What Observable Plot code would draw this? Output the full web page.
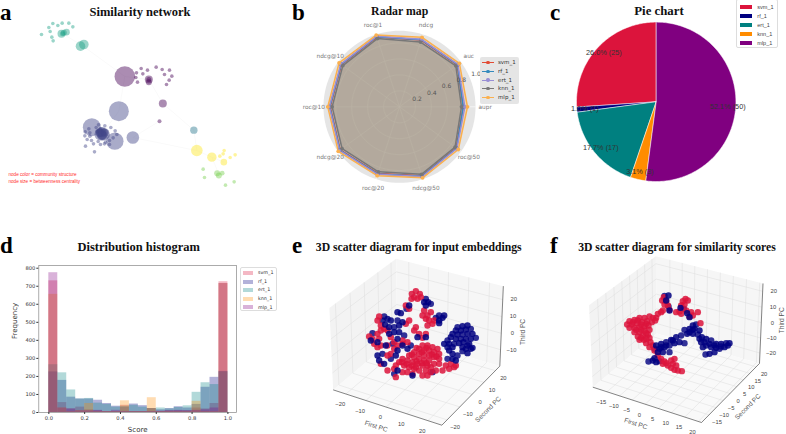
<!DOCTYPE html>
<html><head><meta charset="utf-8">
<script src="https://cdn.jsdelivr.net/npm/d3@7"></script>
<script src="https://cdn.jsdelivr.net/npm/@observablehq/plot@0.6"></script>
<style>
html,body{margin:0;padding:0;background:#fff}
#root{position:relative;width:786px;height:434px;overflow:hidden}
#root svg{position:absolute;overflow:visible;background:transparent}
.t{position:absolute;font-family:"Liberation Serif";font-weight:bold;color:#111;white-space:nowrap}
.lg{position:absolute;box-sizing:border-box}
.lg span{position:absolute;white-space:nowrap}
.lg i{position:absolute;display:block}
</style></head><body><div id="root"></div>
<script>
// ---------- panel a: similarity network (layout x, y, size)
const communityGreen=[[123,102,1.8],[145,81,1.8],[157,69,1.8],[172,75,1.8],[185,68,1.8],[205,68,1.8],[217,79,1.8],[149,93,1.8],[154,110,1.8],[158,121,1.8],[183,100,4],[190,97,3],[198,95,3.3],[186,100,2.5],[240,137,4.8],[250,132,4.8]];
const communityPurple=[[373,228,10.3],[445,237,4],[445,237,2.5],[445,245,3],[422,204,1.8],[441,209,1.8],[467,200,1.8],[485,207,1.8],[507,209,1.8],[492,222,1.8],[514,227,1.8],[506,239,1.8],[498,252,1.8],[427,220,1.8],[408,217,1.8],[406,231,1.8],[411,245,1.8],[487,309,4],[477,362,2]];
const communityBlue=[[355,332,10],[274,380,9],[343,422,8.7],[397,411,6.3],[305,398,6],[300,402,6],[310,402,6],[305,405,5],[303,395,5],[297,397,4],[313,396,4],[294,373,1.8],[313,376,1.8],[331,381,1.8],[344,391,1.8],[349,402,1.8],[338,412,1.8],[254,394,1.8],[265,385,1.8],[268,397,1.8],[253,406,1.8],[268,407,1.8],[260,417,1.8],[273,420,1.8],[279,430,1.8],[255,437,1.8],[282,454,1.8],[293,423,1.8],[300,432,1.8],[315,425,1.8],[327,420,1.8],[327,432,1.8],[312,430,1.8],[287,381,1.8],[300,385,1.8],[290,392,1.8]];
const communityTeal=[[580,389,3.7]];
const communityYellow=[[589,450,5.8],[634,470,4.7],[670,485,3.3],[658,467,1.8],[671,450,1.8],[668,460,1.8],[689,471,1.8],[704,463,1.8]];
const communityLime=[[650,518,3],[665,518,2.4],[655,525,3],[608,506,1.8],[612,531,1.8],[675,554,1.8],[701,544,1.8]];
const communityColors=["#1fa187","#440154","#414487","#2a788e","#fde725","#7ad151"];
const netEdges=[[185,99,245,135],[245,135,373,228],[373,228,445,237],[373,228,355,332],[355,332,305,400],[445,237,487,309],[487,309,580,389],[397,411,477,362],[397,411,589,450],[580,389,589,450],[589,450,634,470],[634,470,670,485],[655,522,634,470]];
const netNotes=["node color = community structure","node size = betweenness centrality"];

// ---------- panel b: radar map
const radarMetrics=["aupr","auc","ndcg","roc@1","ndcg@10","roc@10","ndcg@20","roc@20","ndcg@50","roc@50"];
const radarSvm=[.80,.895,.88,.92,.90,.87,.92,.88,.91,.88];
const radarRf=[.80,.90,.885,.925,.905,.875,.925,.885,.915,.885];
const radarErt=[.82,.905,.89,.93,.91,.88,.93,.89,.92,.89];
const radarKnn=[.778,.874,.854,.90,.879,.845,.891,.858,.891,.862];
const radarMlp=[.853,.929,.916,.946,.937,.90,.95,.908,.937,.912];
const radarTicks=[.2,.4,.6,.8,1.0];
const radarColors=["#E24A33","#348ABD","#988ED5","#777777","#FBB04E"];
const radarFillAlpha=[.05,.25,.1,.35,.22];

// ---------- panel c: pie chart
const models=["svm_1","rf_1","ert_1","knn_1","mlp_1"];
const pieCounts=[25,1,17,3,50];
const pieColors=["crimson","navy","teal","darkorange","purple"];

// ---------- panel d: histogram
const histSvm=[730,55,20,30,15,10,5,5,40,5,5,22,5,10,10,10,25,20,50,725];
const histRf=[225,178,85,75,75,68,50,35,30,47,38,22,15,22,32,25,45,140,195,228];
const histErt=[265,220,125,75,78,52,45,30,35,40,30,22,25,20,28,37,112,165,155,225];
const histKnn=[655,25,5,10,50,5,5,5,65,5,5,82,5,5,5,5,62,5,5,715];
const histMlp=[775,25,20,10,10,12,5,12,5,5,5,5,8,10,12,10,12,15,25,715];
const histTicksX=[0,.2,.4,.6,.8,1];
const histTicksY=[0,100,200,300,400,500,600,700,800];

// ---------- panels e, f: projected scatter coordinates
const embedRed=[[448,190],[460,182],[472,190],[455,200],[465,205],[475,200],[447,205],[430,225],[440,235],[495,255],[505,245],[490,265],[500,270],[515,270],[510,280],[495,285],[480,255],[485,240],[350,258],[345,270],[355,285],[365,295],[375,300],[355,300],[345,310],[320,318],[330,325],[335,340],[345,350],[355,345],[350,325],[460,290],[455,300],[470,310],[490,310],[480,322],[440,270],[430,280],[480,345],[495,345],[510,350],[525,355],[470,355],[485,360],[500,360],[515,365],[530,370],[455,365],[470,370],[485,375],[500,375],[515,380],[530,385],[440,375],[455,380],[470,385],[485,390],[500,390],[420,385],[435,390],[450,395],[465,400],[480,405],[495,405],[515,400],[530,400],[410,395],[425,405],[440,410],[455,415],[470,420],[490,420],[505,425],[520,420],[540,420],[435,425],[420,425],[450,430],[480,435],[495,435],[400,405],[550,405],[565,400],[575,410],[560,415],[580,405],[355,400],[375,375],[385,370],[395,355],[405,345],[420,340],[375,420],[395,415],[400,440],[420,330],[435,335],[395,335],[385,320],[375,345],[462,352],[478,365],[492,352],[508,372],[522,378],[448,372],[462,392],[478,398],[492,398],[432,400],[448,405],[418,395],[460,410],[505,410]];
const embedNavy=[[490,205],[497,215],[485,215],[505,220],[490,225],[440,225],[432,235],[405,245],[415,248],[530,255],[540,262],[530,270],[520,262],[545,255],[530,278],[365,258],[375,265],[385,270],[360,270],[368,282],[380,290],[395,290],[410,285],[420,275],[405,270],[395,305],[410,305],[425,315],[380,310],[405,325],[330,308],[325,330],[345,335],[585,290],[600,287],[615,285],[625,295],[610,297],[595,300],[580,300],[570,310],[585,312],[600,312],[615,310],[630,310],[640,322],[625,325],[610,325],[595,325],[580,325],[565,320],[555,330],[545,340],[560,340],[575,340],[590,338],[620,340],[610,355],[625,355],[615,368],[600,362],[560,360],[570,370],[585,375],[570,385],[580,390],[555,385],[630,352],[345,375],[360,370],[350,390],[365,400],[385,385],[400,375],[370,345],[390,340],[420,345],[405,360],[395,430],[405,420],[450,435],[510,425],[465,320],[490,320],[445,345],[435,355],[603,335],[615,345],[600,350],[570,350],[555,350]];
const simRed=[[418,200],[413,210],[425,212],[430,225],[420,222],[435,238],[410,245],[400,250],[415,240],[395,262],[483,205],[475,212],[490,210],[470,225],[480,222],[465,243],[455,245],[470,250],[485,240],[520,245],[500,245],[495,258],[505,255],[375,258],[385,262],[360,262],[345,262],[330,268],[315,272],[308,282],[322,282],[338,278],[352,275],[368,272],[382,275],[392,270],[315,292],[330,292],[345,290],[360,288],[372,285],[330,305],[345,305],[360,300],[375,298],[340,318],[355,315],[370,312],[345,328],[358,328],[375,322],[365,338],[378,335],[385,345],[375,350],[390,360],[400,375],[410,385],[420,393],[415,400],[430,405],[440,412],[450,418],[460,420],[472,422],[455,405],[440,390],[450,385],[528,278],[325,275],[340,270],[365,280],[350,282],[335,298],[350,298],[365,308],[350,322],[365,325],[425,398],[445,400]];
const simNavy=[[420,196],[432,195],[425,210],[432,228],[435,240],[468,232],[478,235],[488,248],[495,260],[515,282],[505,285],[495,295],[480,298],[510,295],[525,300],[520,312],[505,310],[488,310],[470,315],[455,320],[440,328],[425,335],[410,340],[395,345],[390,355],[405,355],[420,350],[435,345],[450,338],[465,335],[480,338],[400,365],[415,365],[435,365],[532,320],[545,325],[560,330],[575,340],[590,340],[605,338],[615,338],[600,350],[585,355],[570,365],[555,370],[543,372],[535,350],[530,335],[545,345],[560,350],[575,352],[372,393],[385,390],[395,395],[405,392],[390,383],[525,325],[540,335],[555,340],[570,345],[590,348],[610,345],[445,330],[425,345],[410,350],[505,298],[495,305]];
const embedTicks={x:[-20,-10,0,10,20],y:[-20,-10,0,10,20],z:[-10,0,10,20]};
const simTicks={x:[-15,-10,-5,0,5,10,15,20],y:[-15,-10,-5,0,5,10,15,20],z:[-20,-10,0,10,20]};
const embedLimits={x:[-26.5,26.5],y:[-24,24],z:[-20.2,27.8]};
const simLimits={x:[-20.7,21.2],y:[-20.1,22.7],z:[-27,24.9]};

// ---------- helpers
const root=document.getElementById("root");
const place=(svg,l,t)=>{svg.style.left=l+"px";svg.style.top=t+"px";root.appendChild(svg)};
function title(txt,cx,base,size){const d=document.createElement("div");d.className="t";d.textContent=txt;d.style.fontSize=size+"px";d.style.lineHeight=size+"px";d.style.left=cx+"px";d.style.top=(base-size*.85)+"px";d.style.transform="translateX(-50%)";root.appendChild(d)}
function letter(txt,x,base){const d=document.createElement("div");d.className="t";d.textContent=txt;d.style.fontSize="23px";d.style.lineHeight="23px";d.style.left=x+"px";d.style.top=(base-18.5)+"px";d.style.color="#000";root.appendChild(d)}
function legend(box,rows,font,color,draw){const d=document.createElement("div");d.className="lg";Object.assign(d.style,box);rows.forEach(r=>{const s=document.createElement("span");s.textContent=r.name;Object.assign(s.style,{left:r.tx+"px",top:(r.y-font*.6)+"px",fontSize:font+"px",lineHeight:(font*1.2)+"px",color,fontFamily:r.family});d.appendChild(s);draw(d,r)});root.appendChild(d)}
const bar=(d,l,t,w,h,c,extra={})=>{const i=document.createElement("i");Object.assign(i.style,{left:l+"px",top:t+"px",width:w+"px",height:h+"px",background:c},extra);d.appendChild(i)};

// ---------- a
const netLayers=[communityGreen,communityPurple,communityBlue,communityTeal,communityYellow,communityLime];
place(Plot.plot({width:262,height:200,margin:0,
  x:{domain:[0,786],range:[0,262],axis:null},y:{domain:[0,600],range:[0,200],axis:null},r:{type:"identity"},
  style:{fontFamily:"Liberation Sans"},
  marks:[
    Plot.link(netEdges,{x1:d=>d[0],y1:d=>d[1],x2:d=>d[2],y2:d=>d[3],stroke:"#f4f4f4",strokeWidth:.5}),
    ...netLayers.map((l,i)=>Plot.dot(l,{x:d=>d[0],y:d=>d[1],r:d=>d[2],fill:communityColors[i],fillOpacity:.45})),
    Plot.text(netNotes,{x:24,y:(d,i)=>521+i*21,text:d=>d,textAnchor:"start",fill:"#ff2d2d",fontSize:4.6})
  ]}),0,0);
title("Similarity network",140,17,12.5);letter("a",0,19);

// ---------- b
const k=79.7,cxB=137,cyB=106.3;
const polar=(deg,r)=>[r*Math.cos(deg*Math.PI/180),r*Math.sin(deg*Math.PI/180)];
const angle=i=>i*36;
const outer=.954;
const circ=r=>d3.range(0,361,3).map(a=>polar(a,r));
const radarSeries=[radarSvm,radarRf,radarErt,radarKnn,radarMlp];
const poly=v=>[...v,v[0]].map((r,i)=>polar(angle(i),r));
place(Plot.plot({width:262,height:200,margin:0,
  x:{domain:[-cxB/k,(262-cxB)/k],range:[0,262],axis:null},y:{domain:[-(200-cyB)/k,cyB/k],range:[200,0],axis:null},
  style:{fontFamily:"DejaVu Sans"},
  marks:[
    Plot.line(circ(outer),{x:d=>d[0],y:d=>d[1],fill:"#e5e5e5",stroke:"none"}),
    ...radarTicks.slice(0,4).map(t=>Plot.line(circ(t),{x:d=>d[0],y:d=>d[1],stroke:"#fff",strokeWidth:.6})),
    Plot.link(radarMetrics,{x1:0,y1:0,x2:(d,i)=>polar(angle(i),outer)[0],y2:(d,i)=>polar(angle(i),outer)[1],stroke:"#fff",strokeWidth:.6}),
    ...radarSeries.map((v,i)=>Plot.line(poly(v),{x:d=>d[0],y:d=>d[1],fill:radarColors[i],fillOpacity:radarFillAlpha[i],stroke:"none"})),
    ...radarSeries.map((v,i)=>Plot.line(poly(v),{x:d=>d[0],y:d=>d[1],stroke:radarColors[i],strokeWidth:1.5})),
    ...radarSeries.map((v,i)=>Plot.dot(poly(v).slice(0,10),{x:d=>d[0],y:d=>d[1],r:1.9,fill:radarColors[i]})),
    Plot.text(radarTicks,{x:d=>polar(22.5,d+.064)[0],y:d=>polar(22.5,d+.064)[1],dx:-1.8,text:d=>d.toFixed(1),fontSize:6,fill:"#555"}),
    Plot.text(radarMetrics,{x:(d,i)=>polar(angle(i),1.075)[0],y:(d,i)=>polar(angle(i),1.075)[1],text:d=>d,fontSize:5.8,fill:"#777"})
  ]}),262,0);
title("Radar map",399.7,16,11.8);letter("b",292,19);
legend({left:"480px",top:"57px",width:"39px",height:"47px",background:"#e5e5e5",borderRadius:"2px"},
  models.map((m,i)=>({name:m,tx:18,y:5.7+i*8.65,i,family:"DejaVu Sans"})),5.5,"#333",
  (d,r)=>{bar(d,2,r.y-.5,12,1.1,radarColors[r.i]);bar(d,6.3,r.y-1.7,3.4,3.4,radarColors[r.i],{borderRadius:"50%"})});

// ---------- c
const kP=79.7,cxP=131.7,cyP=101.3;
const pieTotal=d3.sum(pieCounts);
let startDeg=90;
const slices=pieCounts.map((c,i)=>{const sweep=c/pieTotal*360;const s={i,c,a0:startDeg,a1:startDeg+sweep};startDeg+=sweep;return s});
const wedge=s=>[[0,0],...d3.range(s.a0,s.a1,1).map(a=>polar(a,1)),polar(s.a1,1),[0,0]];
place(Plot.plot({width:262,height:200,margin:0,
  x:{domain:[-cxP/kP,(262-cxP)/kP],range:[0,262],axis:null},y:{domain:[-(200-cyP)/kP,cyP/kP],range:[200,0],axis:null},
  style:{fontFamily:"Liberation Sans"},
  marks:[
    ...slices.map(s=>Plot.line(wedge(s),{x:d=>d[0],y:d=>d[1],fill:pieColors[s.i],stroke:"#fff",strokeWidth:.5})),
    Plot.text(slices,{x:s=>polar((s.a0+s.a1)/2,.9)[0],y:s=>polar((s.a0+s.a1)/2,.9)[1],text:s=>`${(s.c/pieTotal*100).toFixed(1)}% (${s.c})`,fontSize:7.3,fill:"#333"})
  ]}),524,0);
title("Pie chart",659,16,12.8);letter("c",550,19);
legend({left:"736.3px",top:"-1px",width:"42px",height:"49px",background:"#fff",border:".5px solid #ddd",borderRadius:"2px"},
  models.map((m,i)=>({name:m,tx:20,y:7+i*9,i,family:"Liberation Sans"})),5.5,"#444",
  (d,r)=>bar(d,2.6,r.y-1.9,12,3.8,pieColors[r.i]));

// ---------- d
const histSeries=[histSvm,histRf,histErt,histKnn,histMlp];
const binW=.05;
place(Plot.plot({width:262,height:204,marginLeft:38.3,marginRight:26,marginTop:35,marginBottom:22,
  x:{domain:[-.056,1.048]},y:{domain:[0,815]},
  style:{fontFamily:"DejaVu Sans",color:"#333"},
  marks:[
    ...histSeries.map((v,i)=>Plot.rect(v,{x1:(d,j)=>j*binW,x2:(d,j)=>(j+1)*binW,y1:()=>0,y2:d=>d,fill:pieColors[i],fillOpacity:.3})),
    Plot.frame({stroke:"#888",strokeWidth:.7}),
    Plot.axisX({ticks:histTicksX,tickFormat:d=>d.toFixed(1),tickSize:2,tickPadding:1.5,fontSize:5.2,label:null}),
    Plot.axisY({ticks:histTicksY,tickFormat:d=>d,tickSize:2,tickPadding:1.5,fontSize:5.2,label:null}),
    Plot.text(["Score"],{frameAnchor:"bottom",dy:19,fontSize:7,fill:"#333"}),
    Plot.text(["Frequency"],{frameAnchor:"left",dx:-24,rotate:-90,fontSize:7,fill:"#333"})
  ]}),0,230);
title("Distribution histogram",138.7,252,12.5);letter("d",0,252);
legend({left:"240px",top:"266.7px",width:"37px",height:"44.5px",background:"#fff",border:".5px solid #ddd",borderRadius:"2px"},
  models.map((m,i)=>({name:m,tx:17,y:5.3+i*8.6,i,family:"DejaVu Sans"})),4.8,"#333",
  (d,r)=>bar(d,1.7,r.y-2,10.5,4,pieColors[r.i],{opacity:.3}));

// ---------- e, f: matplotlib-style 3D view (elev 30, azim -60, box 4:4:3)
const E=[.433,-.75,.5],R=[.866,.5,0],U=[-.25,.433,.866],half=[.5715,.5715,.4286],dist=10;
function view(lim,ox,oy){
  const norm=(v,l,h)=>((v-l[0])/(l[1]-l[0])*2-1)*h;
  return (x,y,z)=>{
    const p=[norm(x,lim.x,half[0]),norm(y,lim.y,half[1]),norm(z,lim.z,half[2])];
    const dot=(a,b)=>a[0]*b[0]+a[1]*b[1]+a[2]*b[2];
    const f=dist/(dist-dot(E,p));
    return [ox+327*dot(R,p)*f,oy-327*dot(U,p)*f];
  };
}
function scatter3d(opts){
  const {lim,ticks,ox,oy,red,navy,left,lab}=opts;
  const P=view(lim,ox,oy);
  const [x0,x1]=lim.x,[y0,y1]=lim.y,[z0,z1]=lim.z;
  const paneL=[P(x0,y0,z0),P(x0,y1,z0),P(x0,y1,z1),P(x0,y0,z1),P(x0,y0,z0)];
  const paneR=[P(x0,y1,z0),P(x1,y1,z0),P(x1,y1,z1),P(x0,y1,z1),P(x0,y1,z0)];
  const paneF=[P(x0,y0,z0),P(x1,y0,z0),P(x1,y1,z0),P(x0,y1,z0),P(x0,y0,z0)];
  const seg=[];
  ticks.x.forEach(t=>{seg.push([P(t,y0,z0),P(t,y1,z0)],[P(t,y1,z0),P(t,y1,z1)])});
  ticks.y.forEach(t=>{seg.push([P(x0,t,z0),P(x1,t,z0)],[P(x0,t,z0),P(x0,t,z1)])});
  ticks.z.forEach(t=>{seg.push([P(x0,y0,t),P(x0,y1,t)],[P(x0,y1,t),P(x1,y1,t)])});
  const xy={x:d=>d[0],y:d=>d[1]};
  const edgeLines=[[P(x0,y0,z0),P(x1,y0,z0)],[P(x1,y0,z0),P(x1,y1,z0)],[P(x1,y1,z0),P(x1,y1,z1)]];
  const tl={fontSize:5.8,fill:"#444"},al={fontSize:6.6,fill:"#555"};
  const rr=3.2;
  place(Plot.plot({width:262,height:204,margin:0,
    x:{domain:[0,786],range:[0,262],axis:null},y:{domain:[0,612],range:[0,204],axis:null},
    style:{fontFamily:"Liberation Sans"},
    marks:[
      Plot.line(paneL,{...xy,fill:"#f3f3f3",stroke:"none"}),
      Plot.line(paneR,{...xy,fill:"#f6f6f6",stroke:"none"}),
      Plot.line(paneF,{...xy,fill:"#f9f9f9",stroke:"none"}),
      Plot.link(seg,{x1:d=>d[0][0],y1:d=>d[0][1],x2:d=>d[1][0],y2:d=>d[1][1],stroke:"#dcdcdc",strokeWidth:.5}),
      Plot.link(edgeLines,{x1:d=>d[0][0],y1:d=>d[0][1],x2:d=>d[1][0],y2:d=>d[1][1],stroke:"#333",strokeWidth:.6}),
      Plot.dot(navy.filter((d,i)=>i%3==0),{...xy,r:rr,fill:"navy",fillOpacity:.8}),
      Plot.dot(red,{...xy,r:rr,fill:"crimson",fillOpacity:.85}),
      Plot.dot(navy.filter((d,i)=>i%3!=0),{...xy,r:rr,fill:"navy",fillOpacity:.85}),
      Plot.text(ticks.x,{x:d=>P(d,y0,z0)[0],y:d=>P(d,y0,z0)[1],text:d=>String(d).replace("-","\u2212"),dx:-5.7,dy:10.5,...tl}),
      Plot.text(ticks.y,{x:d=>P(x1,d,z0)[0],y:d=>P(x1,d,z0)[1],text:d=>String(d).replace("-","\u2212"),dx:8,dy:7.5,...tl}),
      Plot.text(ticks.z,{x:d=>P(x1,y1,d)[0],y:d=>P(x1,y1,d)[1],text:d=>String(d).replace("-","\u2212"),dx:11,...tl}),
      Plot.text(["First PC"],{x:()=>P((x0+x1)/2,y0,z0)[0],y:()=>P((x0+x1)/2,y0,z0)[1],dx:lab[0][0],dy:lab[0][1],rotate:18,...al}),
      Plot.text(["Second PC"],{x:()=>P(x1,(y0+y1)/2,z0)[0],y:()=>P(x1,(y0+y1)/2,z0)[1],dx:lab[1][0],dy:lab[1][1],rotate:-45,...al}),
      Plot.text(["Third PC"],{x:()=>P(x1,y1,(z0+z1)/2)[0],y:()=>P(x1,y1,(z0+z1)/2)[1],dx:lab[2][0],dy:lab[2][1],rotate:-90,...al})
    ]}),left,230);
}
scatter3d({lim:embedLimits,ticks:embedTicks,ox:466.4,oy:323,red:embedRed,navy:embedNavy,left:262,lab:[[-10,19.3],[16,15],[21,5]]});
scatter3d({lim:simLimits,ticks:simTicks,ox:459.4,oy:315,red:simRed,navy:simNavy,left:524,lab:[[-10,19.3],[16,15],[21,-4]]});
title("3D scatter diagram for input embeddings",418.7,252,11.7);letter("e",292,252);
title("3D scatter diagram for similarity scores",677,252,11.7);letter("f",550,252);
</script></body></html>
